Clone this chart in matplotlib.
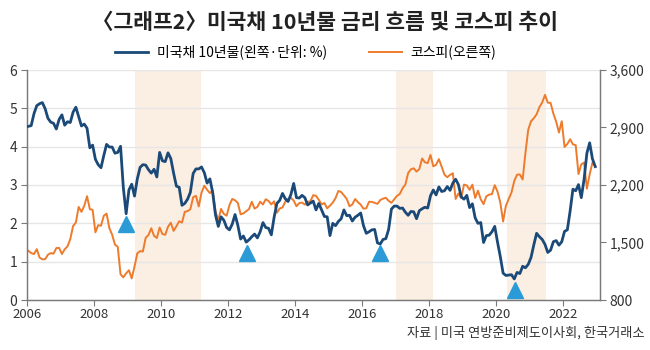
import matplotlib
matplotlib.use("Agg")
import matplotlib.pyplot as plt
import numpy as np
from matplotlib.ticker import FuncFormatter

plt.rcParams["font.family"] = ["Noto Sans CJK KR", "DejaVu Sans"]

START_YEAR = 2006

# 미국채 10년물 금리 (%), 월별 2006.01 ~ 2022.12
us10y = [
    4.53, 4.55, 4.86, 5.07, 5.12, 5.15, 4.99, 4.74, 4.64, 4.61, 4.46, 4.71,  # 2006
    4.83, 4.56, 4.65, 4.63, 4.90, 5.03, 4.78, 4.54, 4.59, 4.48, 3.97, 4.04,  # 2007
    3.67, 3.53, 3.45, 3.77, 4.06, 3.99, 3.99, 3.83, 3.85, 4.01, 2.93, 2.25,  # 2008
    2.87, 3.02, 2.71, 3.16, 3.46, 3.53, 3.52, 3.40, 3.31, 3.41, 3.21, 3.85,  # 2009
    3.63, 3.61, 3.84, 3.69, 3.31, 2.97, 2.94, 2.47, 2.52, 2.63, 2.81, 3.30,  # 2010
    3.42, 3.42, 3.47, 3.32, 3.05, 3.16, 2.80, 2.22, 1.92, 2.17, 2.08, 1.89,  # 2011
    1.83, 1.98, 2.23, 1.95, 1.59, 1.67, 1.51, 1.57, 1.65, 1.72, 1.62, 1.78,  # 2012
    2.02, 1.89, 1.87, 1.70, 2.16, 2.52, 2.60, 2.78, 2.64, 2.57, 2.75, 3.04,  # 2013
    2.67, 2.66, 2.73, 2.67, 2.48, 2.53, 2.58, 2.35, 2.52, 2.35, 2.18, 2.17,  # 2014
    1.68, 2.00, 1.94, 2.05, 2.12, 2.35, 2.20, 2.21, 2.06, 2.16, 2.21, 2.27,  # 2015
    1.94, 1.74, 1.78, 1.83, 1.84, 1.49, 1.46, 1.58, 1.60, 1.84, 2.37, 2.45,  # 2016
    2.45, 2.39, 2.40, 2.29, 2.21, 2.31, 2.30, 2.12, 2.33, 2.38, 2.42, 2.40,  # 2017
    2.72, 2.87, 2.74, 2.95, 2.83, 2.85, 2.96, 2.86, 3.05, 3.15, 3.01, 2.69,  # 2018
    2.63, 2.73, 2.41, 2.51, 2.14, 2.00, 2.02, 1.50, 1.68, 1.69, 1.78, 1.92,  # 2019
    1.51, 1.13, 0.70, 0.64, 0.65, 0.66, 0.55, 0.72, 0.69, 0.88, 0.84, 0.93,  # 2020
    1.11, 1.44, 1.74, 1.65, 1.58, 1.45, 1.24, 1.30, 1.52, 1.55, 1.43, 1.52,  # 2021
    1.79, 1.83, 2.32, 2.89, 2.85, 3.01, 2.67, 3.15, 3.83, 4.10, 3.68, 3.48,  # 2022
]

# 코스피 지수, 월별 2006.01 ~ 2022.12
kospi = [
    1399, 1371, 1359, 1419, 1317, 1295, 1297, 1352, 1371, 1364, 1432, 1434,  # 2006
    1360, 1417, 1453, 1542, 1700, 1743, 1933, 1873, 1946, 2064, 1906, 1897,  # 2007
    1624, 1711, 1704, 1825, 1852, 1674, 1594, 1474, 1448, 1113, 1076, 1124,  # 2008
    1162, 1063, 1206, 1369, 1395, 1390, 1557, 1591, 1673, 1581, 1555, 1682,  # 2009
    1602, 1594, 1692, 1741, 1641, 1698, 1759, 1742, 1873, 1882, 1905, 2051,  # 2010
    2069, 1939, 2107, 2192, 2142, 2101, 2133, 1880, 1770, 1909, 1848, 1826,  # 2011
    1956, 2030, 2014, 1982, 1843, 1854, 1881, 1906, 1996, 1912, 1933, 1997,  # 2012
    1962, 2027, 2005, 1964, 2001, 1863, 1914, 1926, 1997, 2030, 2045, 2011,  # 2013
    1941, 1980, 1986, 1961, 1995, 2002, 2076, 2068, 2020, 1964, 1981, 1916,  # 2014
    1949, 1986, 2041, 2127, 2115, 2074, 2030, 1941, 1963, 2029, 1991, 1961,  # 2015
    1912, 1917, 1996, 1994, 1983, 1970, 2016, 2034, 2044, 2008, 1983, 2026,  # 2016
    2068, 2091, 2160, 2205, 2347, 2392, 2403, 2363, 2394, 2523, 2476, 2467,  # 2017
    2566, 2427, 2446, 2515, 2423, 2326, 2295, 2323, 2343, 2030, 2097, 2041,  # 2018
    2205, 2195, 2141, 2204, 2042, 2131, 2025, 1967, 2063, 2083, 2088, 2198,  # 2019
    2119, 1987, 1755, 1947, 2030, 2108, 2249, 2326, 2328, 2267, 2591, 2873,  # 2020
    2976, 3013, 3061, 3148, 3204, 3297, 3202, 3199, 3069, 2971, 2839, 2977,  # 2021
    2663, 2699, 2757, 2695, 2685, 2333, 2452, 2473, 2155, 2330, 2473, 2430,  # 2022
]

# 음영 구간 (연도)
shade_spans = [(2009.22, 2011.2), (2017.0, 2018.12), (2020.33, 2021.5)]

# 저점 표시 (연도, 금리)
low_x = [2008.94, 2012.56, 2016.52, 2020.57]
low_y = [1.97, 1.22, 1.22, 0.26]

year_ticks = [2006, 2008, 2010, 2012, 2014, 2016, 2018, 2020, 2022]
left_ticks = [0, 1, 2, 3, 4, 5, 6]
right_ticks = [800, 1500, 2200, 2900, 3600]

BLUE = "#1c4a78"
ORANGE = "#ee7b2c"
SHADE = "#fbeee3"
TRI = "#2a9bd6"
SPINE = "#7a7a7a"

x = START_YEAR + (np.arange(len(us10y)) + 0.5) / 12

fig = plt.figure(figsize=(6.5, 3.5), dpi=100)
ax = fig.add_axes([27 / 650, 1 - 300 / 350, (600 - 27) / 650, 230 / 350])
ax2 = ax.twinx()
# blue axis on top, orange axis (with shading + grid) underneath
ax.set_zorder(ax2.get_zorder() + 1)
ax.patch.set_visible(False)

for lo, hi in shade_spans:
    ax2.axvspan(lo, hi, color=SHADE, zorder=0, lw=0)

for t in left_ticks[1:]:
    ax2.plot([0, 1], [t, t], transform=ax.get_yaxis_transform(),
             color="#e6e6e6", lw=1.0, zorder=0.5)

l2, = ax2.plot(x, kospi, color=ORANGE, lw=1.4, zorder=2, label="코스피(오른쪽)")
l1, = ax.plot(x, us10y, color=BLUE, lw=2.0, zorder=3, label="미국채 10년물(왼쪽·단위: %)")
ax.plot(low_x, low_y, linestyle="none", marker="^", markersize=11,
        color=TRI, zorder=4, clip_on=False)

ax.set_xlim(2006, 2023.1)
ax.set_ylim(0, 6)
ax2.set_ylim(800, 3600)

ax.set_xticks(year_ticks)
ax.set_yticks(left_ticks)
ax2.set_yticks(right_ticks)
ax2.yaxis.set_major_formatter(FuncFormatter(lambda v, p: f"{int(v):,}"))

for a in (ax, ax2):
    a.spines["top"].set_visible(False)
    for s in ("left", "right", "bottom"):
        a.spines[s].set_color(SPINE)
        a.spines[s].set_linewidth(0.9)
    a.tick_params(colors="#333333", labelsize=10, length=4, width=0.8)
ax.tick_params(axis="x", labelsize=9.5, pad=2)
ax.tick_params(axis="y", pad=3)
ax2.tick_params(axis="y", pad=3)
for lab in ax.get_xticklabels() + ax.get_yticklabels() + ax2.get_yticklabels():
    lab.set_color("#333333")
ax.tick_params(axis="both", color=SPINE)
ax2.tick_params(axis="y", color=SPINE)

fig.text(0.5, 0.935, "〈그래프2〉미국채 10년물 금리 흐름 및 코스피 추이",
         ha="center", va="center", fontsize=15.5, fontweight="bold", color="#222222")

fig.legend(handles=[l1, l2], loc="center", bbox_to_anchor=(0.47, 0.851), ncol=2,
           frameon=False, fontsize=10, handlelength=2.4, columnspacing=3.0,
           handletextpad=0.6)

fig.text(0.992, 0.05, "자료 | 미국 연방준비제도이사회, 한국거래소",
         ha="right", va="center", fontsize=9.5, color="#333333")

fig.savefig("out.png", dpi=100)
plt.close(fig)
